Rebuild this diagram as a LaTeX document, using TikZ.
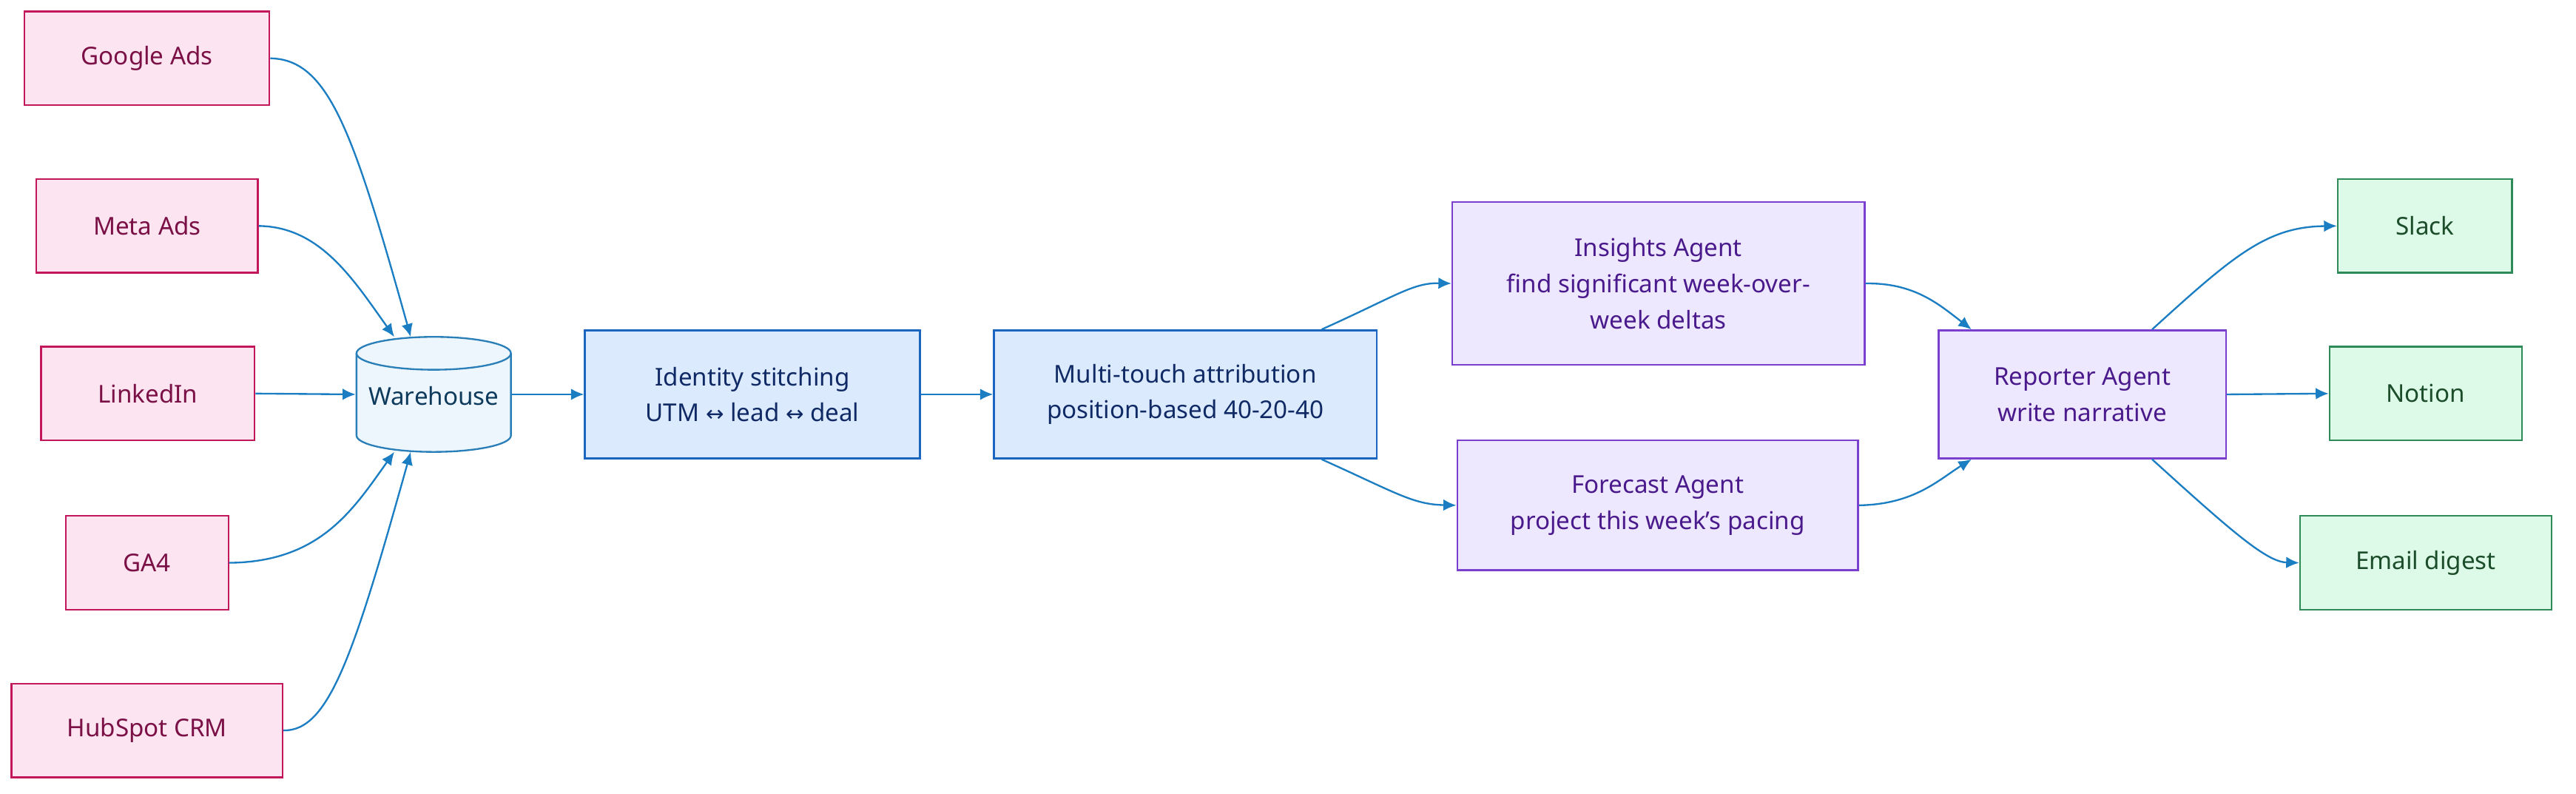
\documentclass[tikz,border=0pt]{standalone}
\usepackage{fontspec}
\setmainfont{Noto Sans}
\newfontfamily\djv{DejaVu Sans}
\usetikzlibrary{arrows.meta}
\definecolor{pkF}{HTML}{FCE4F1}\definecolor{pkD}{HTML}{C2185B}\definecolor{pkT}{HTML}{7A1045}
\definecolor{blF}{HTML}{DCEAFE}\definecolor{blD}{HTML}{1A65C0}\definecolor{blT}{HTML}{102A66}
\definecolor{cyF}{HTML}{EEF6FD}\definecolor{cyD}{HTML}{2A7FB8}\definecolor{cyT}{HTML}{0E3A5C}
\definecolor{puF}{HTML}{EDE8FE}\definecolor{puD}{HTML}{7B3FD0}\definecolor{puT}{HTML}{4A1A8C}
\definecolor{grF}{HTML}{DDF9E7}\definecolor{grD}{HTML}{2E8B57}\definecolor{grT}{HTML}{1B4D2A}
\definecolor{arr}{HTML}{1B7DC2}
\begin{document}
\begin{tikzpicture}[x=0.02cm,y=-0.02cm,
 box/.style={draw,line width=0.6pt,minimum height=57*0.02cm,inner sep=0pt,align=center,font=\fontsize{8.5}{12.5}\selectfont},
 src/.style={box,fill=pkF,draw=pkD,text=pkT},
 blu/.style={box,fill=blF,draw=blD,text=blT,minimum height=78*0.02cm},
 pur/.style={box,fill=puF,draw=puD,text=puT},
 grn/.style={box,fill=grF,draw=grD,text=grT},
 con/.style={draw=arr,line width=0.6pt,-{Latex[length=4.5pt,width=4pt]}}]
\useasboundingbox (0,0) rectangle (1568,483);
\node[src,minimum width=149*0.02cm] (g) at (89.5,35.5) {Google Ads};
\node[src,minimum width=135*0.02cm] (m) at (89.5,137.5) {Meta Ads};
\node[src,minimum width=130*0.02cm] (l) at (90,239.5) {LinkedIn};
\node[src,minimum width=99*0.02cm] (ga) at (89.5,342.5) {GA4};
\node[src,minimum width=165*0.02cm] (h) at (89.5,444.5) {HubSpot CRM};
% cylinder
\fill[cyF] (217,215) -- (217,265) arc[start angle=180,end angle=360,x radius=47,y radius=-10] -- (311,215) arc[start angle=0,end angle=180,x radius=47,y radius=-10];
\draw[cyD,line width=0.6pt] (217,215) -- (217,265) arc[start angle=180,end angle=360,x radius=47,y radius=-10] -- (311,215);
\draw[cyD,line width=0.6pt] (264,215) ellipse[x radius=47,y radius=10];
\node[box,draw=none,text=cyT,minimum width=94*0.02cm,minimum height=70*0.02cm] (w) at (264,240) {\raisebox{-1.6ex}{Warehouse}};
\node[blu,minimum width=204*0.02cm] (id) at (458,240) {Identity stitching\\UTM {\djv\fontsize{7.5}{12.5}\selectfont ↔} lead {\djv\fontsize{7.5}{12.5}\selectfont ↔} deal};
\node[blu,minimum width=233*0.02cm] (mt) at (721.5,240) {Multi-touch attribution\\position-based 40-20-40};
\node[pur,minimum width=251*0.02cm,minimum height=99*0.02cm] (ins) at (1009.5,172.5) {Insights Agent\\find significant week-over-\\week deltas};
\node[pur,minimum width=244*0.02cm,minimum height=79*0.02cm] (fc) at (1009,307.5) {Forecast Agent\\project this week’s pacing};
\node[pur,minimum width=175*0.02cm,minimum height=78*0.02cm] (rep) at (1267.5,240) {Reporter Agent\\write narrative};
\node[grn,minimum width=106*0.02cm] (sl) at (1476,137.5) {Slack};
\node[grn,minimum width=117*0.02cm] (no) at (1476.5,239.5) {Notion};
\node[grn,minimum width=153*0.02cm] (em) at (1476.5,342.5) {Email digest};
\coordinate (wt1) at (250,205);\coordinate (wt2) at (240,205);
\coordinate (wb1) at (250,275);\coordinate (wb2) at (240,275);
\path[con] (g.east) .. controls (200,36) and (215,80) .. (wt1);
\path[con] (m.east) .. controls (195,138) and (215,170) .. (wt2);
\path[con] (l.east) -- (w.west);
\path[con] (ga.east) .. controls (195,342) and (215,310) .. (wb2);
\path[con] (h.east) .. controls (200,445) and (215,400) .. (wb1);
\path[con] (w.east) -- (id.west);
\path[con] (id.east) -- (mt.west);
\path[con] ([xshift=1.66cm]mt.north) .. controls (850,180) and (860,172) .. (ins.west);
\path[con] ([xshift=1.66cm]mt.south) .. controls (850,300) and (860,307) .. (fc.west);
\path[con] (ins.east) .. controls (1165,172) and (1180,185) .. ([xshift=-1.35cm]rep.north);
\path[con] (fc.east) .. controls (1165,307) and (1180,292) .. ([xshift=-1.35cm]rep.south);
\path[con] ([xshift=0.85cm]rep.north) .. controls (1360,155) and (1380,138) .. (sl.west);
\path[con] (rep.east) -- (no.west);
\path[con] ([xshift=0.85cm]rep.south) .. controls (1360,325) and (1380,342) .. (em.west);
\end{tikzpicture}
\end{document}
